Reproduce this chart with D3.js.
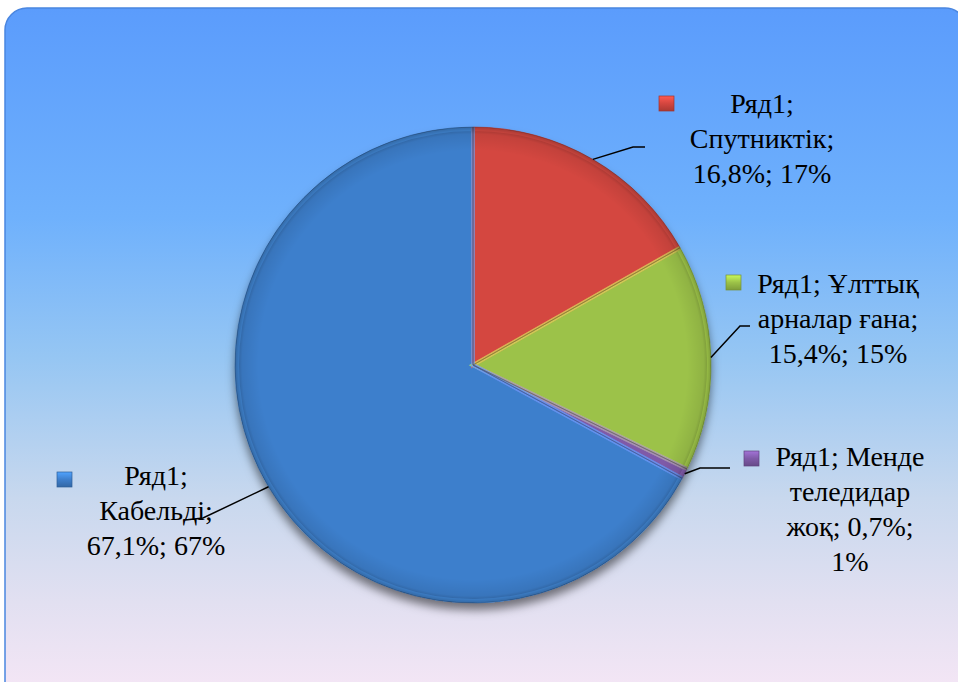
<!DOCTYPE html>
<html>
<head>
<meta charset="utf-8">
<script src="https://cdn.jsdelivr.net/npm/d3@7"></script>
<style>
  body { margin: 0; background: #ffffff; }
  svg { display: block; }
  text.lbl { font-family: "Liberation Serif", "Times New Roman", Tinos, "DejaVu Serif", serif; font-size: 28px; fill: #000; }
</style>
</head>
<body>
<svg id="chart"></svg>
<script>
// Data
var seriesName = "Ряд1";
var categories = ["Спутниктік", "Ұлттық арналар ғана", "Менде теледидар жоқ", "Кабельді"];
var values = [16.8, 15.4, 0.7, 67.1];
var roundedPct = [17, 15, 1, 67];
var colors = ["#d4463f", "#9cc248", "#7f5aa8", "#3e7fcc"];

var width = 958, height = 682;
var cx = 473, cy = 365, r = 238;

var svg = d3.select("#chart").attr("width", width).attr("height", height);
var defs = svg.append("defs");

// Background gradient of the plot panel
var bg = defs.append("linearGradient").attr("id", "bg")
  .attr("x1", 0).attr("y1", 0).attr("x2", 0).attr("y2", 1);
[[0, "#5b9cfc"], [0.3, "#6fb1fc"], [0.5, "#96c6f3"], [0.7, "#c8d8ee"], [0.85, "#e2e0f1"], [1, "#f8e7f6"]]
  .forEach(function(s) { bg.append("stop").attr("offset", s[0]).attr("stop-color", s[1]); });

svg.append("rect")
  .attr("x", 5).attr("y", 8)
  .attr("width", 962).attr("height", 700)
  .attr("rx", 22).attr("ry", 22)
  .attr("fill", "url(#bg)")
  .attr("stroke", "#4a86e0").attr("stroke-width", 1.5);

// shadow + bevel look
var shadow = defs.append("filter").attr("id", "shadow")
  .attr("x", "-20%").attr("y", "-20%").attr("width", "140%").attr("height", "140%");
shadow.append("feDropShadow").attr("dx", 0).attr("dy", 7).attr("stdDeviation", 5)
  .attr("flood-color", "#000").attr("flood-opacity", 0.5);

var edge = defs.append("radialGradient").attr("id", "edge")
  .attr("gradientUnits", "userSpaceOnUse")
  .attr("cx", cx).attr("cy", cy).attr("r", r);
edge.append("stop").attr("offset", 0).attr("stop-color", "#000").attr("stop-opacity", 0);
edge.append("stop").attr("offset", 0.9).attr("stop-color", "#000").attr("stop-opacity", 0);
edge.append("stop").attr("offset", 0.97).attr("stop-color", "#000").attr("stop-opacity", 0.08);
edge.append("stop").attr("offset", 1).attr("stop-color", "#000").attr("stop-opacity", 0.3);

var data = categories.map(function(c, i) {
  return { cat: c, value: values[i], round: roundedPct[i], color: colors[i] };
});

var pie = d3.pie().sort(null).value(function(d) { return d.value; });
var arcs = pie(data);
var arc = d3.arc().innerRadius(0).outerRadius(r);

var g = svg.append("g").attr("transform", "translate(" + cx + "," + cy + ")");

var slices = g.append("g").attr("filter", "url(#shadow)");
slices.selectAll("path.slice").data(arcs).enter().append("path")
  .attr("class", "slice")
  .attr("d", arc)
  .attr("fill", function(d) { return d.data.color; });

// bevel: light inner edge and darker rim
g.selectAll("path.hl").data(arcs).enter().append("path")
  .attr("d", d3.arc().innerRadius(0).outerRadius(r - 2))
  .attr("fill", "none")
  .attr("stroke", function(d) { return d3.color(d.data.color).brighter(0.7); })
  .attr("stroke-width", 4)
  .attr("stroke-opacity", 0.6);
svg.append("circle").attr("cx", cx).attr("cy", cy).attr("r", r)
  .attr("fill", "url(#edge)");
g.selectAll("path.sep").data(arcs).enter().append("path")
  .attr("d", arc)
  .attr("fill", "none")
  .attr("stroke", function(d) { return d3.color(d.data.color).darker(0.8); })
  .attr("stroke-width", 0.8)
  .attr("stroke-opacity", 0.7);

// Label layout: center x, first baseline y, wrap width, knee and end of leader line, marker
var labelPos = [
  { x: 762, y: 113, w: 165, knee: [633, 147], end: [645, 147], mx: 659, my: 96 },
  { x: 838, y: 293, w: 190, knee: [740, 326], end: [750, 326], mx: 726, my: 275 },
  { x: 850, y: 466, w: 168, knee: [700, 468], end: [730, 468], mx: 744, my: 451 },
  { x: 156, y: 485, w: 165, knee: [203, 518], end: [185, 520], mx: 57, my: 472 }
];
var lineH = 35;

function fmt(v) { return String(v).replace(".", ","); }

// leader lines
arcs.forEach(function(a, i) {
  var p = labelPos[i];
  var mid = (a.startAngle + a.endAngle) / 2;
  var sx = cx + r * Math.sin(mid), sy = cy - r * Math.cos(mid);
  svg.append("polyline")
    .attr("points", [[sx, sy], p.knee, p.end].map(function(q) { return q.join(","); }).join(" "))
    .attr("fill", "none").attr("stroke", "#000").attr("stroke-width", 1.5);
});

// legend markers
arcs.forEach(function(a, i) {
  var p = labelPos[i];
  var c = d3.color(a.data.color);
  var mg = defs.append("linearGradient").attr("id", "mk" + i)
    .attr("x1", 0).attr("y1", 0).attr("x2", 0).attr("y2", 1);
  mg.append("stop").attr("offset", 0).attr("stop-color", c.brighter(0.7));
  mg.append("stop").attr("offset", 0.5).attr("stop-color", c);
  mg.append("stop").attr("offset", 1).attr("stop-color", c.darker(0.6));
  svg.append("rect").attr("x", p.mx).attr("y", p.my).attr("width", 15).attr("height", 15)
    .attr("fill", "url(#mk" + i + ")").attr("stroke", c.darker(0.8)).attr("stroke-width", 0.7);
});

// wrapped labels
arcs.forEach(function(a, i) {
  var p = labelPos[i];
  var words = (seriesName + "; " + a.data.cat + "; " + fmt(a.data.value) + "%; " + a.data.round + "%").split(" ");
  var t = svg.append("text").attr("class", "lbl").attr("text-anchor", "middle");
  var lines = [], cur = [];
  var probe = t.append("tspan");
  words.forEach(function(w) {
    var test = cur.concat([w]).join(" ");
    probe.text(test);
    if (cur.length && probe.node().getComputedTextLength() > p.w) {
      lines.push(cur.join(" "));
      cur = [w];
    } else {
      cur.push(w);
    }
  });
  lines.push(cur.join(" "));
  probe.remove();
  lines.forEach(function(l, k) {
    t.append("tspan").attr("x", p.x).attr("y", p.y + k * lineH).text(l);
  });
});
</script>
</body>
</html>
